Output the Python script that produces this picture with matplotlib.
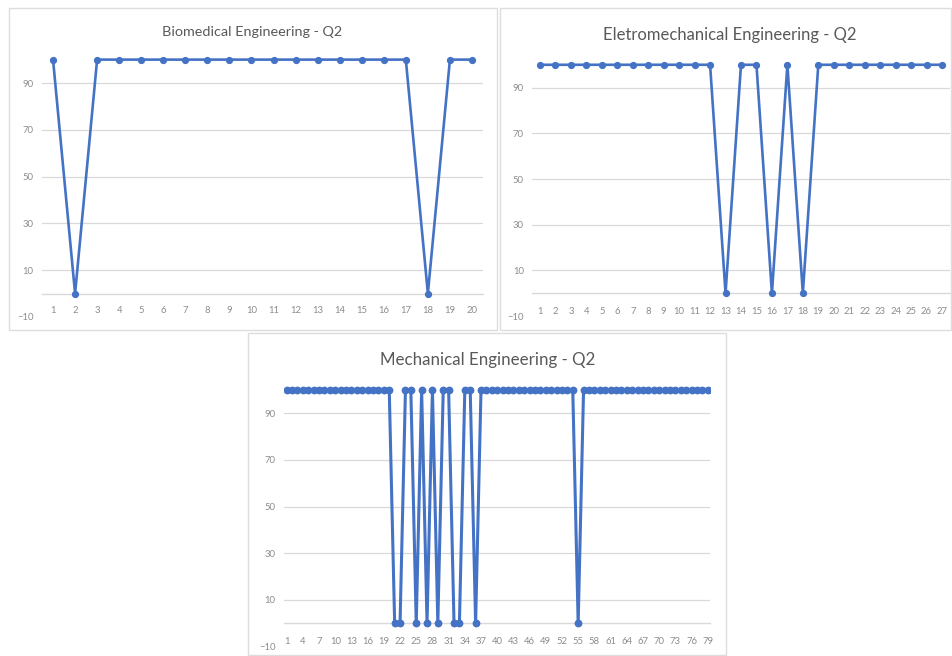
import matplotlib
matplotlib.use("Agg")
import matplotlib.pyplot as plt
from matplotlib.patches import Rectangle

plt.rcParams['font.family'] = ['Lato', 'DejaVu Sans']

# ---------------- data ----------------
bio_title = "Biomedical Engineering - Q2"
bio_x = list(range(1, 21))
bio_y = [100, 0, 100, 100, 100, 100, 100, 100, 100, 100,
         100, 100, 100, 100, 100, 100, 100, 0, 100, 100]

elec_title = "Eletromechanical Engineering - Q2"
elec_x = list(range(1, 28))
elec_y = [100, 100, 100, 100, 100, 100, 100, 100, 100, 100,
          100, 100, 0, 100, 100, 0, 100, 0, 100, 100,
          100, 100, 100, 100, 100, 100, 100]

mech_title = "Mechanical Engineering - Q2"
mech_x = list(range(1, 80))
mech_zero = [21, 22, 25, 27, 29, 32, 33, 36, 55]
mech_y = [0 if i in mech_zero else 100 for i in mech_x]
mech_xticks = list(range(1, 80, 3))

y_ticks = [-10, 10, 30, 50, 70, 90]

# ---------------- style ----------------
W, H = 952, 656
LINE = '#4472C4'
GRID = '#D9D9D9'
TICK = '#8C8C8C'
TITLE = '#595959'

fig = plt.figure(figsize=(W / 100, H / 100), dpi=100)
fig.patch.set_facecolor('white')


def rect(left, right, top, bottom):
    return [left / W, 1 - bottom / H, (right - left) / W, (bottom - top) / H]


# panel frames
for (l, t, r, b) in [(9, 8, 497, 330), (500, 8, 951, 330), (248, 333, 726, 655)]:
    fig.patches.append(Rectangle((l / W, 1 - b / H), (r - l) / W, (b - t) / H,
                                 transform=fig.transFigure, fill=False,
                                 edgecolor='#DDDDDD', linewidth=1.0))


def panel(pos, x, y, n, xticks, title, tx, ty, tsize, tick_size, xpad, lw, ms):
    ax = fig.add_axes(rect(*pos))
    ax.plot(x, y, color=LINE, linewidth=lw, marker='o', markersize=ms,
            markerfacecolor=LINE, markeredgecolor=LINE, zorder=3)
    ax.set_xlim(0.5, n + 0.5)
    ax.set_ylim(-10, 108)
    ax.set_yticks(y_ticks)
    ax.set_xticks(xticks)
    ax.set_xticklabels([str(v) for v in xticks])
    for s in ['top', 'right', 'left']:
        ax.spines[s].set_visible(False)
    ax.spines['bottom'].set_position(('data', 0))
    ax.spines['bottom'].set_color(GRID)
    ax.spines['bottom'].set_linewidth(1.0)
    ax.grid(axis='y', color=GRID, linewidth=0.9)
    ax.yaxis.get_gridlines()[0].set_visible(False)
    ax.set_axisbelow(True)
    ax.tick_params(axis='y', length=0, pad=6, labelsize=tick_size, labelcolor=TICK)
    ax.tick_params(axis='x', length=0, pad=xpad, labelsize=tick_size, labelcolor=TICK)
    ax.set_facecolor('none')
    fig.text(tx / W, 1 - ty / H, title, ha='center', va='center',
             fontsize=tsize, color=TITLE)
    return ax


panel((42, 483, 40.9, 316.9), bio_x, bio_y, 20, bio_x, bio_title,
      252.5, 32, 10.4, 6.8, 9, 1.9, 4.2)
panel((532.3, 949.7, 46.5, 316.1), elec_x, elec_y, 27, elec_x, elec_title,
      730, 35, 12.0, 6.8, 10, 1.9, 4.2)
panel((284, 710.4, 371.3, 646.6), mech_x, mech_y, 79, mech_xticks, mech_title,
      487.5, 360, 12.2, 6.8, 10, 2.2, 4.6)

fig.savefig('out.png', dpi=100, facecolor='white')
